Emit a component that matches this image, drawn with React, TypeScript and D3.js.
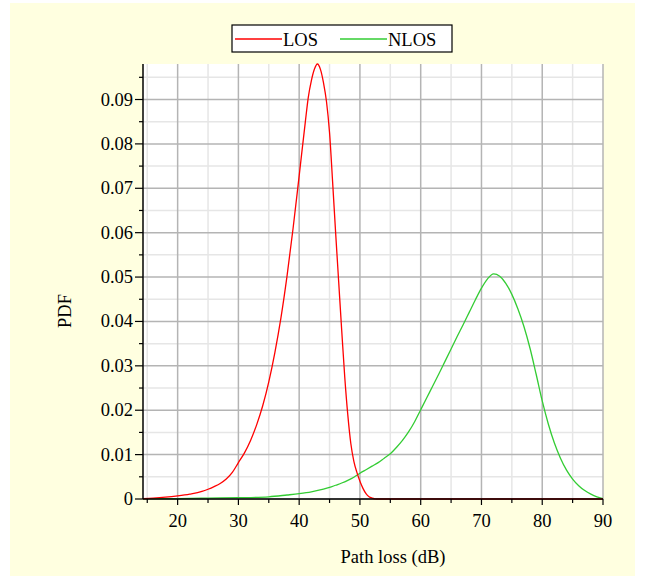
import React from "react";
import * as d3 from "d3";

const losX = [14.3, 16, 18, 20, 22, 24, 25, 26, 27, 28, 29, 30, 31, 32, 33, 34, 35, 36, 37, 38, 39, 40, 41, 41.5, 42, 42.5, 43, 43.5, 44, 44.5, 45, 45.5, 46, 46.5, 47, 47.5, 48, 48.5, 49, 49.5, 50, 50.5, 51, 51.5, 52, 52.5, 53, 55, 60, 70, 80, 90];
const losY = [0.0001, 0.0002, 0.0004, 0.0007, 0.0011, 0.0017, 0.0022, 0.0028, 0.0035, 0.0045, 0.006, 0.0082, 0.0104, 0.0132, 0.0167, 0.021, 0.0264, 0.033, 0.0408, 0.0502, 0.061, 0.0728, 0.0848, 0.0905, 0.0942, 0.0968, 0.098, 0.0968, 0.0938, 0.0895, 0.0825, 0.0715, 0.06, 0.049, 0.038, 0.0275, 0.019, 0.0125, 0.0085, 0.006, 0.004, 0.0024, 0.0012, 0.0005, 0.0002, 0.00005, 0, 0, 0, 0, 0, 0];

const nlosX = [14.3, 20, 25, 30, 35, 38, 40, 42, 44, 45, 46, 47, 48, 49, 50, 51, 52, 53, 54, 55, 56, 57, 58, 59, 60, 61, 62, 63, 64, 65, 66, 67, 68, 69, 70, 71, 72, 73, 74, 75, 76, 77, 78, 79, 80, 81, 82, 83, 84, 85, 86, 87, 88, 89, 90];
const nlosY = [0.00005, 0.0001, 0.0002, 0.0003, 0.0005, 0.0009, 0.0012, 0.0016, 0.0022, 0.0026, 0.0031, 0.0036, 0.0042, 0.0049, 0.0058, 0.0066, 0.0074, 0.0082, 0.0092, 0.0102, 0.0116, 0.0132, 0.0151, 0.0174, 0.0201, 0.0228, 0.0255, 0.0282, 0.031, 0.0338, 0.0366, 0.0393, 0.0421, 0.0449, 0.0475, 0.0496, 0.0507, 0.0502, 0.0486, 0.0461, 0.0428, 0.0388, 0.0339, 0.0281, 0.0221, 0.0169, 0.0126, 0.0092, 0.0065, 0.0045, 0.003, 0.0019, 0.0011, 0.0005, 0.0001];

const xTicks = [20, 30, 40, 50, 60, 70, 80, 90];
const xMinor = [15, 25, 35, 45, 55, 65, 75, 85];
const yTicks = [0, 0.01, 0.02, 0.03, 0.04, 0.05, 0.06, 0.07, 0.08, 0.09];
const yMinor = [0.005, 0.015, 0.025, 0.035, 0.045, 0.055, 0.065, 0.075, 0.085, 0.095];
const yTickLabels = ["0", "0.01", "0.02", "0.03", "0.04", "0.05", "0.06", "0.07", "0.08", "0.09"];
const seriesNames = ["LOS", "NLOS"];
const seriesColors = ["#ff0000", "#33cc33"];

const W = 646, H = 581;
const left = 143, right = 603, top = 64, bottom = 499;
const FONT = "'Liberation Serif', 'Times New Roman', serif";

export default function App() {
  const x = d3.scaleLinear().domain([14.3, 90]).range([left, right]);
  const y = d3.scaleLinear().domain([0, 0.098]).range([bottom, top]);
  const line = d3.line<[number, number]>().x(d => x(d[0])).y(d => y(d[1])).curve(d3.curveMonotoneX);
  const los = line(losX.map((v, i) => [v, losY[i]] as [number, number]))!;
  const nlos = line(nlosX.map((v, i) => [v, nlosY[i]] as [number, number]))!;

  return (
    <svg width={W} height={H} style={{ position: "absolute", left: 0, top: 0 }} fontFamily={FONT}>
      <rect x={10} y={3} width={625} height={573} fill="#ffffe0" />
      <rect x={left} y={top} width={right - left} height={bottom - top} fill="#ffffff" />
      {xMinor.map(v => (
        <line key={"xm" + v} x1={x(v)} x2={x(v)} y1={top} y2={bottom} stroke="#e6e6e6" strokeWidth={1.5} />
      ))}
      {yMinor.map(v => (
        <line key={"ym" + v} x1={left} x2={right} y1={y(v)} y2={y(v)} stroke="#e6e6e6" strokeWidth={1.5} />
      ))}
      {xTicks.map(v => (
        <line key={"xg" + v} x1={x(v)} x2={x(v)} y1={top} y2={bottom} stroke="#b4b4b4" strokeWidth={1.5} />
      ))}
      {yTicks.map(v => (
        <line key={"yg" + v} x1={left} x2={right} y1={y(v)} y2={y(v)} stroke="#b4b4b4" strokeWidth={1.5} />
      ))}
      <path d={nlos} fill="none" stroke={seriesColors[1]} strokeWidth={1.3} />
      <path d={los} fill="none" stroke={seriesColors[0]} strokeWidth={1.3} />
      <line x1={left} x2={right} y1={bottom} y2={bottom} stroke="#000" strokeWidth={1.5} />
      <line x1={left} x2={left} y1={top} y2={bottom} stroke="#000" strokeWidth={1.5} />
      {xTicks.map(v => (
        <g key={"xt" + v}>
          <line x1={x(v)} x2={x(v)} y1={bottom} y2={bottom + 6} stroke="#000" strokeWidth={1.2} />
          <text x={x(v)} y={527} textAnchor="middle" fontSize={18.5} fill="#000">{v}</text>
        </g>
      ))}
      {xMinor.map(v => (
        <line key={"xmt" + v} x1={x(v)} x2={x(v)} y1={bottom} y2={bottom + 4} stroke="#000" strokeWidth={1.2} />
      ))}
      {yTicks.map((v, i) => (
        <g key={"yt" + v}>
          <line x1={left - 8} x2={left} y1={y(v)} y2={y(v)} stroke="#000" strokeWidth={1.2} />
          <text x={133} y={y(v) + 6} textAnchor="end" fontSize={18.5} fill="#000">{yTickLabels[i]}</text>
        </g>
      ))}
      {yMinor.map(v => (
        <line key={"ymt" + v} x1={left - 4} x2={left} y1={y(v)} y2={y(v)} stroke="#000" strokeWidth={1.2} />
      ))}
      <text x={393} y={563} textAnchor="middle" fontSize={18.5} fill="#000">Path loss (dB)</text>
      <text transform="translate(71,311) rotate(-90)" textAnchor="middle" fontSize={18.5} fill="#000">PDF</text>
      <rect x={232} y={25} width={220} height={27} fill="#fff" stroke="#000" strokeWidth={1.2} />
      <line x1={235} x2={282} y1={39} y2={39} stroke={seriesColors[0]} strokeWidth={1.3} />
      <text x={283} y={45.5} fontSize={18.5} fill="#000">{seriesNames[0]}</text>
      <line x1={340} x2={387} y1={39} y2={39} stroke={seriesColors[1]} strokeWidth={1.3} />
      <text x={388} y={45.5} fontSize={18.5} fill="#000">{seriesNames[1]}</text>
    </svg>
  );
}
